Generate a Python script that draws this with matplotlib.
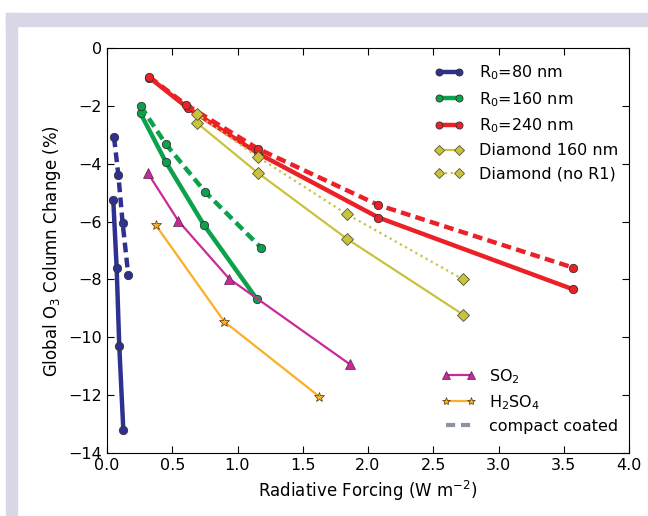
import matplotlib
matplotlib.use("Agg")
import matplotlib.pyplot as plt
from matplotlib.lines import Line2D
from matplotlib.patches import Rectangle

# R0 = 80 nm
b_x = [0.048, 0.074, 0.094, 0.125]
b_y = [-5.25, -7.6, -10.3, -13.2]
bc_x = [0.054, 0.087, 0.12, 0.163]
bc_y = [-3.09, -4.39, -6.06, -7.85]
# R0 = 160 nm
g_x = [0.257, 0.452, 0.743, 1.147]
g_y = [-2.26, -3.95, -6.12, -8.67]
gc_x = [0.257, 0.452, 0.751, 1.18]
gc_y = [-2.0, -3.33, -4.97, -6.9]
# R0 = 240 nm
r_x = [0.324, 0.618, 1.16, 2.08, 3.57]
r_y = [-1.02, -2.07, -3.65, -5.86, -8.34]
rc_x = [0.324, 0.608, 1.16, 2.08, 3.57]
rc_y = [-1.0, -1.97, -3.49, -5.43, -7.59]
# diamond
d_x = [0.687, 1.16, 1.84, 2.73]
d_y = [-2.58, -4.33, -6.6, -9.22]
dn_x = [0.687, 1.16, 1.84, 2.73]
dn_y = [-2.28, -3.78, -5.75, -8.0]
# SO2 / H2SO4
so2_x = [0.311, 0.547, 0.937, 1.86]
so2_y = [-4.31, -5.98, -7.98, -10.93]
h2_x = [0.373, 0.899, 1.627]
h2_y = [-6.12, -9.46, -12.05]

blue = "#2e3192"
green = "#0ca14b"
red = "#ec2127"
yel = "#c9c23c"
mag = "#c92a9a"
ora = "#fbae26"

plt.rcParams["font.family"] = "DejaVu Sans"
plt.rcParams["font.size"] = 11.5
plt.rcParams["mathtext.fontset"] = "dejavusans"

fig = plt.figure(figsize=(6.48, 5.16), dpi=100)
fig.patches.append(Rectangle((6/648, 0), 11/648, 1 - 13/516, transform=fig.transFigure,
                             color="#d9d6e6", zorder=0))
fig.patches.append(Rectangle((6/648, 1 - 26/516), 1, 13/516, transform=fig.transFigure,
                             color="#d9d6e6", zorder=0))
ax = fig.add_axes([107/648, 1 - 453/516, 522/648, 405/516])

mk = dict(marker="o", ms=6, mec="#333333", mew=0.6)
h1, = ax.plot(b_x, b_y, color=blue, lw=3.2, **mk)
ax.plot(bc_x, bc_y, color=blue, lw=3.2, ls=(0, (2.2, 1.2)), **mk)
h2, = ax.plot(g_x, g_y, color=green, lw=3.2, **mk)
ax.plot(gc_x, gc_y, color=green, lw=3.2, ls=(0, (2.2, 1.2)), **mk)
h3, = ax.plot(r_x, r_y, color=red, lw=3.2, **mk)
ax.plot(rc_x, rc_y, color=red, lw=3.2, ls=(0, (2.2, 1.2)), **mk)
dk = dict(marker="D", ms=6.5, mfc=yel, mec="#555533", mew=0.6)
h4, = ax.plot(d_x, d_y, color=yel, lw=1.6, **dk)
h5, = ax.plot(dn_x, dn_y, color=yel, lw=1.6, ls=":", **dk)
h6, = ax.plot(so2_x, so2_y, color=mag, lw=1.6, marker="^", ms=7, mec="#552244", mew=0.5)
h7, = ax.plot(h2_x, h2_y, color=ora, lw=1.6, marker="*", ms=7, mec="#553311", mew=0.5)
h8 = Line2D([], [], color="#8a93a3", lw=3, ls=(0, (2.2, 1.4)))

ax.set_xlim(0, 4)
ax.set_ylim(-14, 0)
ax.set_xticks([0, 0.5, 1, 1.5, 2, 2.5, 3, 3.5, 4])
ax.set_yticks(range(-14, 1, 2))
ax.tick_params(direction="in", top=True, right=True, length=5, labelsize=11.5)
ax.set_xlabel("Radiative Forcing (W m$^{-2}$)", fontsize=12)
ax.set_ylabel("Global O$_3$ Column Change (%)", fontsize=12)

leg1 = ax.legend([h1, h2, h3, h4, h5],
                 ["R$_0$=80 nm", "R$_0$=160 nm", "R$_0$=240 nm",
                  "Diamond 160 nm", "Diamond (no R1)"],
                 loc="upper right", bbox_to_anchor=(1.0, 0.99),
                 frameon=False, numpoints=2, fontsize=11.5, markerscale=0.85,
                 handlelength=1.9, handletextpad=0.9, labelspacing=0.5,
                 borderaxespad=0.3)
ax.add_artist(leg1)
ax.legend([h6, h7, h8], ["SO$_2$", "H$_2$SO$_4$", "compact coated"],
          loc="lower right", bbox_to_anchor=(1.0, 0.02),
          frameon=False, numpoints=2, fontsize=11.5, markerscale=0.85,
          handlelength=2.2, handletextpad=0.8, labelspacing=0.45,
          borderaxespad=0.3)

fig.savefig("out.png", dpi=100)
